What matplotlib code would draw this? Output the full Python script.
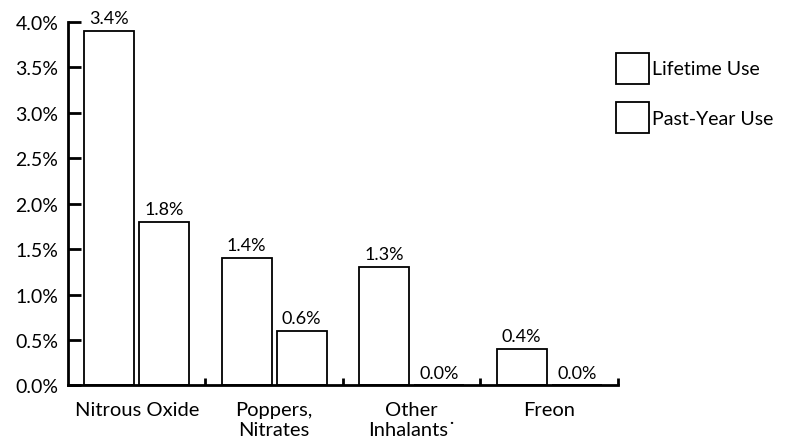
import matplotlib
matplotlib.use("Agg")
import matplotlib.pyplot as plt
from matplotlib.patches import Patch
import numpy as np

categories = ["Nitrous Oxide", "Poppers,\nNitrates", "Other\nInhalants\u02d9", "Freon"]
lifetime_heights = [3.9, 1.4, 1.3, 0.4]
lifetime_labels = ["3.4%", "1.4%", "1.3%", "0.4%"]
pastyear_heights = [1.8, 0.6, 0.0, 0.0]
pastyear_labels = ["1.8%", "0.6%", "0.0%", "0.0%"]
yticks = [0.0, 0.5, 1.0, 1.5, 2.0, 2.5, 3.0, 3.5, 4.0]
ytick_labels = ["0.0%", "0.5%", "1.0%", "1.5%", "2.0%", "2.5%", "3.0%", "3.5%", "4.0%"]

plt.rcParams['font.family'] = ['Lato', 'DejaVu Sans']

fig = plt.figure(figsize=(7.86, 4.39), dpi=100)
ax = fig.add_axes([0.0865, 0.1196, 0.6997, 0.8291])

x = np.arange(len(categories))
w = 0.364
off = 0.2
b1 = ax.bar(x - off, lifetime_heights, w, facecolor='white', edgecolor='black', linewidth=1.3, zorder=2)
b2 = ax.bar(x + off, pastyear_heights, w, facecolor='white', edgecolor='black', linewidth=1.3, zorder=2)

for rect, lab in zip(b1, lifetime_labels):
    ax.annotate(lab, (rect.get_x() + rect.get_width() / 2, rect.get_height()),
                xytext=(0, 3.5), textcoords='offset points', ha='center', va='bottom', fontsize=13)
for rect, lab in zip(b2, pastyear_labels):
    ax.annotate(lab, (rect.get_x() + rect.get_width() / 2, rect.get_height()),
                xytext=(0, 3.5), textcoords='offset points', ha='center', va='bottom', fontsize=13)

ax.set_xlim(-0.5, len(categories) - 0.5)
ax.set_ylim(0, 4.0)
ax.set_yticks(yticks)
ax.set_yticklabels(ytick_labels, fontsize=14)
ax.tick_params(axis='y', direction='in', length=9.5, width=2.0, pad=7)

ax.set_xticks(np.arange(len(categories)) + 0.5)
ax.set_xticklabels([])
ax.tick_params(axis='x', which='major', direction='in', length=5, width=2.0)
ax.set_xticks(x, minor=True)
ax.set_xticklabels(categories, minor=True, fontsize=14.5, linespacing=1.2)
ax.tick_params(axis='x', which='minor', length=0, pad=11)

for s in ['top', 'right']:
    ax.spines[s].set_visible(False)
for s in ['left', 'bottom']:
    ax.spines[s].set_linewidth(2.0)

handles = [Patch(facecolor='white', edgecolor='black', linewidth=1.3, label='Lifetime Use'),
           Patch(facecolor='white', edgecolor='black', linewidth=1.3, label='Past-Year Use')]
fig.legend(handles=handles, loc='upper left', bbox_to_anchor=(0.774, 0.895), frameon=False,
           fontsize=14, handlelength=1.7, handleheight=2.05, handletextpad=0.12, labelspacing=0.95,
           borderaxespad=0)

fig.savefig("out.png", dpi=100)
